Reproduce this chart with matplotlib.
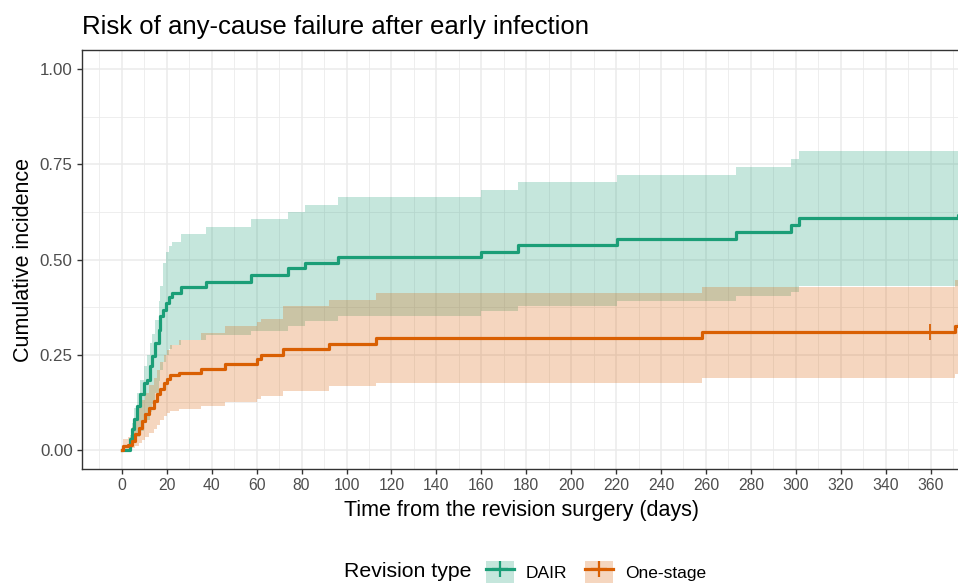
import numpy as np
import matplotlib
matplotlib.use("Agg")
import matplotlib.pyplot as plt
from matplotlib.patches import Patch
from matplotlib.lines import Line2D
from matplotlib.ticker import MultipleLocator

plt.rcParams['font.family'] = ['Liberation Sans', 'DejaVu Sans']

# cumulative incidence (days, estimate, 95% band)
dair_t = [0, 3.5, 4.5, 5.5, 6.7, 7.9, 9.7, 11.2, 12.4, 13.4,
          14.9, 16.4, 17.1, 18.3, 19.4, 20.9, 22.4, 26.1, 37.4, 57.5,
          73.9, 81.3, 96.2, 160, 176.4, 220.3, 273.2, 297.7, 301.4, 372]
dair_est = [0, 0.03, 0.055, 0.081, 0.116, 0.146, 0.177, 0.185, 0.22, 0.246,
            0.281, 0.316, 0.351, 0.368, 0.386, 0.401, 0.413, 0.429, 0.442, 0.46,
            0.477, 0.49, 0.507, 0.52, 0.538, 0.555, 0.573, 0.59, 0.608, 0.616]
dair_hi = [0, 0.04, 0.07, 0.11, 0.15, 0.185, 0.22, 0.25, 0.28, 0.305,
           0.34, 0.39, 0.43, 0.49, 0.52, 0.535, 0.545, 0.568, 0.586, 0.607,
           0.625, 0.642, 0.664, 0.683, 0.703, 0.723, 0.742, 0.764, 0.784, 0.786]
dair_lo = [0, 0.005, 0.01, 0.02, 0.035, 0.05, 0.07, 0.08, 0.1, 0.12,
           0.15, 0.18, 0.21, 0.23, 0.25, 0.265, 0.275, 0.29, 0.303, 0.312,
           0.325, 0.338, 0.351, 0.364, 0.377, 0.39, 0.403, 0.416, 0.43, 0.435]

one_t = [0, 0.6, 2.9, 4.5, 6.0, 7.5, 9.0, 10.4, 11.9, 14.2, 15.6,
         17.1, 18.6, 20.1, 21.6, 25.3, 35.0, 45.7, 60.3, 61.8, 71.5,
         92.3, 113, 258.3, 370.7, 372.5]
one_est = [0, 0.011, 0.013, 0.024, 0.042, 0.059, 0.077, 0.094, 0.111, 0.129, 0.146,
           0.159, 0.177, 0.187, 0.196, 0.203, 0.213, 0.225, 0.239, 0.25, 0.266,
           0.279, 0.294, 0.31, 0.325, 0.332]
one_hi = [0, 0.03, 0.035, 0.06, 0.085, 0.11, 0.13, 0.15, 0.17, 0.19, 0.21,
          0.23, 0.25, 0.262, 0.275, 0.29, 0.307, 0.325, 0.335, 0.344, 0.377,
          0.394, 0.412, 0.429, 0.446, 0.45]
one_lo = [0, 0.0, 0.002, 0.005, 0.01, 0.018, 0.025, 0.035, 0.045, 0.055, 0.065,
          0.08, 0.09, 0.098, 0.103, 0.108, 0.116, 0.125, 0.135, 0.142, 0.155,
          0.168, 0.177, 0.19, 0.2, 0.205]
one_cens = [359.8]

groups = ["DAIR", "One-stage"]
colors = ["#1B9E77", "#D95F02"]

x_min, x_max = -17.9, 373.5

fig = plt.figure(figsize=(9.58, 5.83), dpi=100)
ax = fig.add_axes([0.0853, 0.1955, 1.0 - 0.0853 + 0.003, 0.7187])

series = [(dair_t, dair_est, dair_lo, dair_hi, []),
          (one_t, one_est, one_lo, one_hi, one_cens)]
for (t, est, lo, hi, cens), col in zip(series, colors):
    tt = list(t) + [x_max + 5]
    ax.fill_between(tt, list(lo) + [lo[-1]], list(hi) + [hi[-1]], step='post',
                    color=col, alpha=0.25, linewidth=0, zorder=2)
    ax.step(tt, list(est) + [est[-1]], where='post', color=col, lw=2.3, zorder=3)
    if cens:
        idx = np.searchsorted(t, cens, side='right') - 1
        ax.plot(cens, np.array(est)[idx], ls='none', marker='|', ms=11,
                mew=1.3, color=col, zorder=4)

ax.set_xlim(x_min, x_max)
ax.set_ylim(-0.05, 1.05)
ax.set_xticks(np.arange(0, 361, 20))
ax.xaxis.set_minor_locator(MultipleLocator(10))
ax.set_yticks([0, 0.25, 0.5, 0.75, 1.0])
ax.set_yticklabels(["0.00", "0.25", "0.50", "0.75", "1.00"])
ax.yaxis.set_minor_locator(MultipleLocator(0.125))
ax.grid(which='major', color='#EBEBEB', lw=1.1, zorder=0)
ax.grid(which='minor', color='#EBEBEB', lw=0.6, zorder=0)
ax.set_axisbelow(True)
ax.tick_params(which='major', length=3.5, width=1.0, color='#333333',
               labelcolor='#4D4D4D', pad=3)
ax.tick_params(axis='x', which='major', labelsize=11.3)
ax.tick_params(axis='y', which='major', labelsize=12.2)
ax.tick_params(which='minor', length=0)
for side in ['left', 'bottom', 'top']:
    ax.spines[side].set_color('#333333')
    ax.spines[side].set_linewidth(1.0)
ax.spines['right'].set_visible(False)

ax.set_xlabel("Time from the revision surgery (days)", fontsize=15.5, labelpad=5)
ax.set_ylabel("Cumulative incidence", fontsize=15.5, labelpad=4)
fig.text(0.0853, 0.954, "Risk of any-cause failure after early infection",
         fontsize=18.5, ha='left', va='center')

handles = [(Patch(facecolor=c, alpha=0.25, edgecolor='none'),
            Line2D([], [], color=c, lw=2.3, marker='+', ms=11, mew=1.6))
           for c in colors]
fig.text(344 / 958, 0.019, "Revision type", fontsize=15.3, ha='left', va='center')
fig.legend(handles, groups, loc='center left', bbox_to_anchor=(486 / 958, 0.019),
           ncol=2, frameon=False, fontsize=12.5, handlelength=1.6,
           handleheight=1.6, handletextpad=0.7, columnspacing=1.0,
           borderpad=0, borderaxespad=0)

fig.savefig("out.png", dpi=100)
